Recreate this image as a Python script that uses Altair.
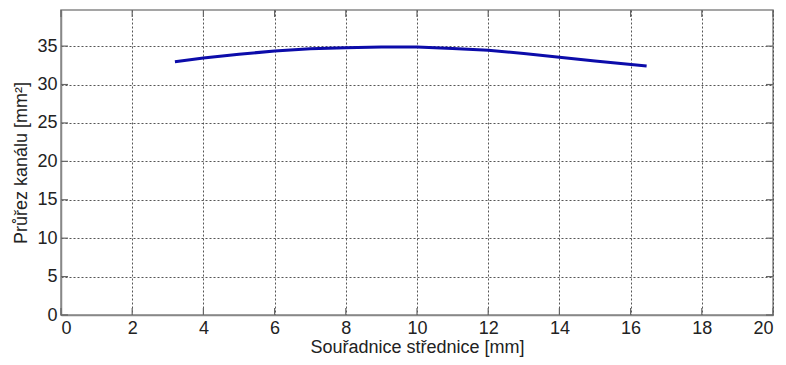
import altair as alt
import pandas as pd

x_vals = [3.2, 4, 5, 6, 7, 8, 9, 10, 11, 12, 13, 14, 15, 16.45]
y_vals = [32.95, 33.45, 33.95, 34.35, 34.65, 34.8, 34.88, 34.88, 34.7, 34.45, 34.05, 33.55, 33.05, 32.4]
x_ticks = [0, 2, 4, 6, 8, 10, 12, 14, 16, 18, 20]
y_ticks = [0, 5, 10, 15, 20, 25, 30, 35]

df = pd.DataFrame({"x": x_vals, "y": y_vals})
dfx = pd.DataFrame({"t": x_ticks})
dfy = pd.DataFrame({"t": y_ticks})

W, H = 712, 305
xs = alt.Scale(domain=[0, 20], nice=False, zero=False)
ys = alt.Scale(domain=[0, 39.7], nice=False, zero=False)

line = alt.Chart(df).mark_line(color="#0c0caa", strokeWidth=3).encode(
    x=alt.X("x:Q", scale=xs,
            axis=alt.Axis(values=x_ticks, title="Souřadnice střednice [mm]", titlePadding=1)),
    y=alt.Y("y:Q", scale=ys,
            axis=alt.Axis(values=y_ticks, title="Průřez kanálu [mm²]", titlePadding=6)),
)

tick_col = "#666666"
xt_bottom = alt.Chart(dfx).mark_rule(color=tick_col, strokeWidth=1.2).encode(
    x=alt.X("t:Q", scale=xs), y=alt.value(H), y2=alt.value(H - 7))
xt_top = alt.Chart(dfx).mark_rule(color=tick_col, strokeWidth=1.2).encode(
    x=alt.X("t:Q", scale=xs), y=alt.value(0), y2=alt.value(7))
yt_left = alt.Chart(dfy).mark_rule(color=tick_col, strokeWidth=1.2).encode(
    y=alt.Y("t:Q", scale=ys), x=alt.value(0), x2=alt.value(7))
yt_right = alt.Chart(dfy).mark_rule(color=tick_col, strokeWidth=1.2).encode(
    y=alt.Y("t:Q", scale=ys), x=alt.value(W), x2=alt.value(W - 7))

chart = alt.layer(line, xt_bottom, xt_top, yt_left, yt_right).properties(
    width=W, height=H,
    autosize=alt.AutoSizeParams(type="none"),
    padding={"left": 53, "top": 2, "right": 5, "bottom": 42},
).configure_axis(
    labelFont="Liberation Sans", titleFont="Liberation Sans",
    labelFontSize=18, titleFontSize=18, titleFontWeight="normal",
    labelColor="#222222", titleColor="#222222",
    domainColor="#888888", domainWidth=1.5,
    tickSize=0, labelPadding=4,
    gridColor="#444444", gridDash=[2, 2], gridWidth=1, gridOpacity=0.9,
).configure_view(stroke="#888888", strokeWidth=1.5)

chart.save("out.html", embed_options={"renderer": "svg", "actions": False})
